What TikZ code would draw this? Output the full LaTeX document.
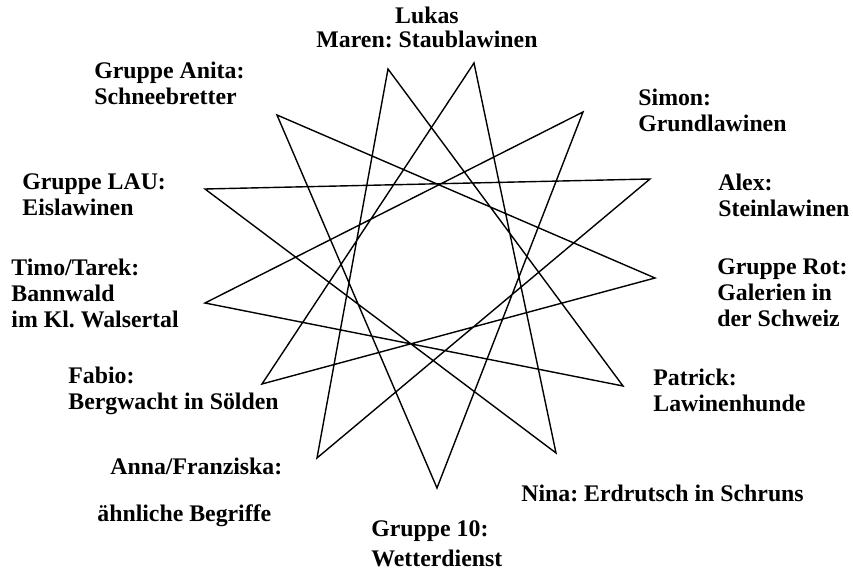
\documentclass[tikz,border=0pt]{standalone}
\usepackage{fontspec}
\setmainfont{Liberation Serif}
\frenchspacing
\begin{document}
\begin{tikzpicture}[
    x=0.5pt, y=-0.5pt,
    lbl/.style={anchor=base west, align=left, inner sep=0pt,
                font=\fontsize{11.9}{13}\selectfont\bfseries},
    starline/.style={line width=0.7pt, line join=miter}
  ]
    \useasboundingbox (0,0) rectangle (853,571);

    % corners of the star
    \foreach \x/\y [count=\i] in {388/69, 474/63, 583/112, 650/179,
        655/278, 623/386, 556/453, 437/488, 317/458, 262/384,
        205/303, 205/189, 277/115}
      \coordinate (p\i) at (\x,\y);

    \draw[starline] (p1) -- (p6) -- (p11) -- (p3) -- (p8) -- (p13) -- (p5)
      -- (p10) -- (p2) -- (p7) -- (p12) -- (p4) -- (p9) -- cycle;

    % labels (placed at the baseline of their last line)
    \node[lbl, anchor=base, align=center] (lukas) at (427,48) {Lukas\\[-1pt]Maren: Staublawinen};
    \node[lbl] (anita)    at (94,105)  {Gruppe Anita:\\Schneebretter};
    \node[lbl] (simon)    at (638,132) {Simon:\\Grundlawinen};
    \node[lbl] (lau)      at (22,216)  {Gruppe LAU:\\Eislawinen};
    \node[lbl] (alex)     at (718,217) {Alex:\\Steinlawinen};
    \node[lbl] (timo)     at (11,328)  {Timo/Tarek:\\Bannwald\\im Kl. Walsertal};
    \node[lbl] (rot)      at (717,327) {Gruppe Rot:\\Galerien in\\der Schweiz};
    \node[lbl] (fabio)    at (68,410)  {Fabio:\\Bergwacht in Sölden};
    \node[lbl] (patrick)  at (653,412) {Patrick:\\Lawinenhunde};
    \node[lbl] (anna)     at (110,475) {Anna/Franziska:};
    \node[lbl] (begriffe) at (97,522)  {ähnliche Begriffe};
    \node[lbl] (nina)     at (521,502) {Nina: Erdrutsch in Schruns};
    \node[lbl] (wetter)   at (371,567) {Gruppe 10:\\[2pt]Wetterdienst};
\end{tikzpicture}
\end{document}
